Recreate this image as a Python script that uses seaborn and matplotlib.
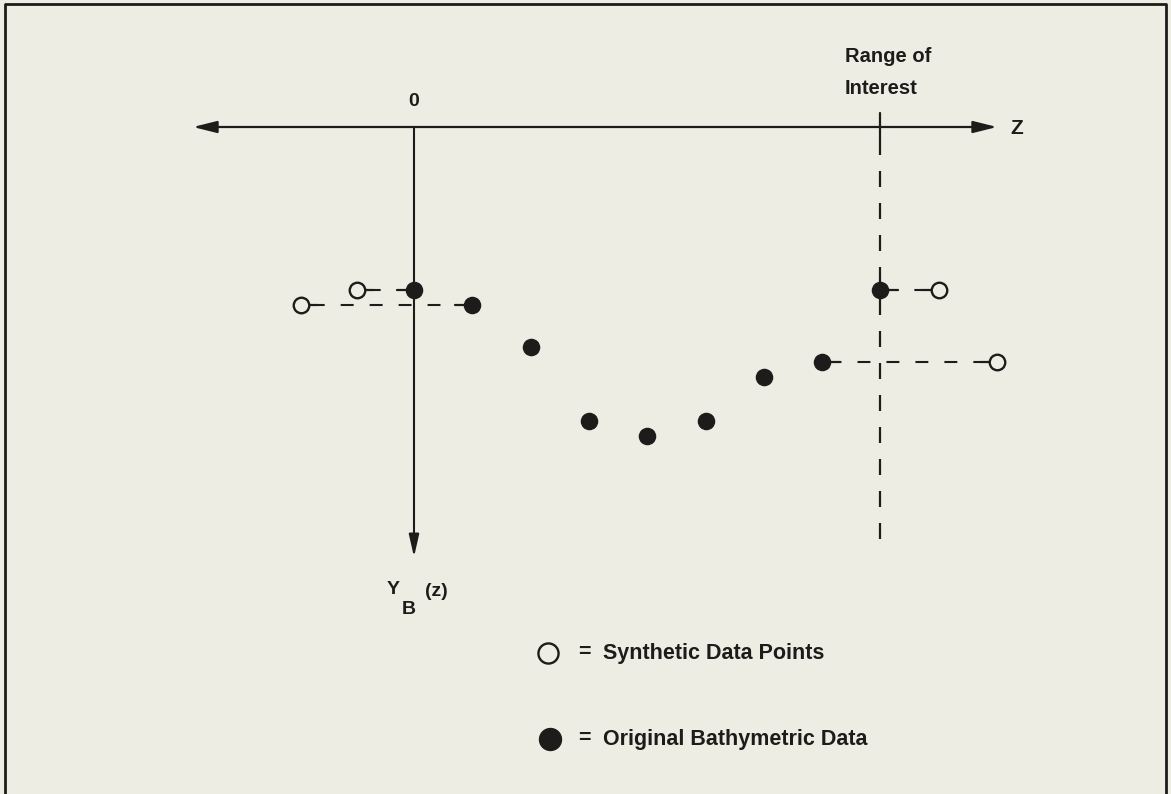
import numpy as np
import pandas as pd
import seaborn as sns
import matplotlib.pyplot as plt

# Original bathymetric data (z index, depth below the z axis)
orig_z = [0, 1, 2, 3, 4, 5, 6, 7, 8]
orig_y = [163, 178, 220, 294, 309, 294, 250, 235, 163]

# Synthetic data points and the original point each one copies
synth_z = [-1.94, -0.98, 9.0, 10.0]
synth_y = [178, 163, 163, 235]
synth_src = [1, 0, 8, 7]

range_z = 8  # range of interest

sns.set_theme(style="white")
plt.rcParams['font.family'] = ['Liberation Sans', 'DejaVu Sans']

bg = '#eeede3'
ink = '#1e1c1a'
step = 58.3  # pixels per z unit
x0, y0 = 414, 127  # origin in pixels


def zpx(px):
    return (px - x0) / step


fig = plt.figure(figsize=(11.71, 7.94), dpi=100, facecolor=bg)
ax = fig.add_axes([0, 0, 1, 1])
ax.set_facecolor(bg)
ax.set_xlim(zpx(0), zpx(1171))
ax.set_ylim(794 - y0, -y0)
ax.axis('off')

# frame of the figure
ax.plot([0.004, 0.004, 0.996, 0.996], [0, 0.995, 0.995, 0], transform=ax.transAxes,
        color=ink, lw=2, clip_on=False)

# z axis (double arrow) and Y axis
ax.annotate('', xy=(zpx(997), 0), xytext=(zpx(193), 0),
            arrowprops=dict(arrowstyle='<|-|>,head_length=0.8,head_width=0.2', color=ink,
                            lw=1.6, mutation_scale=18, shrinkA=0, shrinkB=0))
ax.annotate('', xy=(0, 430), xytext=(0, 0),
            arrowprops=dict(arrowstyle='-|>,head_length=0.75,head_width=0.17', color=ink,
                            lw=1.5, mutation_scale=18, shrinkA=0, shrinkB=0))
ax.text(zpx(1017), 1, 'Z', fontsize=15, fontweight='bold', color=ink, va='center', ha='center')
ax.text(0, -25, '0', fontsize=14, fontweight='bold', color=ink, ha='center', va='center')
ax.text(zpx(393), 463, 'Y', fontsize=14, fontweight='bold', color=ink, ha='center', va='center')
ax.text(zpx(409), 482, 'B', fontsize=14, fontweight='bold', color=ink, ha='center', va='center')
ax.text(zpx(436), 465, '(z)', fontsize=14, fontweight='bold', color=ink, ha='center', va='center')

# range of interest
ax.plot([range_z, range_z], [-14, 12], color=ink, lw=1.6)
ax.plot([range_z, range_z], [12, 416], color=ink, lw=1.6, ls=(0, (7.2, 7.2)))
ax.text(zpx(845), -71, 'Range of', fontsize=14.5, fontweight='bold', color=ink,
        ha='left', va='center')
ax.text(zpx(845), -39, 'Interest', fontsize=14.5, fontweight='bold', color=ink,
        ha='left', va='center')

# dashed links synthetic -> source, with a short solid stub at each end
stub = 0.3
for z, y, s in zip(synth_z, synth_y, synth_src):
    zs = orig_z[s]
    d = np.sign(zs - z)
    ax.plot([z + d * stub, zs - d * stub], [y, y], color=ink, lw=1.5,
            ls=(3, (6.2, 7.7)), zorder=2)
    ax.plot([z, z + d * stub], [y, y], color=ink, lw=1.6, zorder=2)
    ax.plot([zs, zs - d * stub], [y, y], color=ink, lw=1.6, zorder=2)

df_o = pd.DataFrame({'z': orig_z, 'y': orig_y})
df_s = pd.DataFrame({'z': synth_z, 'y': synth_y})
sns.scatterplot(data=df_o, x='z', y='y', ax=ax, s=135, color=ink, edgecolor=ink,
                linewidth=1, zorder=4, legend=False)
sns.scatterplot(data=df_s, x='z', y='y', ax=ax, s=125, facecolor=bg, edgecolor=ink,
                linewidth=1.7, zorder=4, legend=False)

# legend drawn into the diagram
ax.scatter([zpx(548)], [526], s=210, facecolor=bg, edgecolor=ink, linewidth=1.7, zorder=4)
ax.scatter([zpx(550)], [612], s=250, color=ink, zorder=4)
for yy, label in [(526, 'Synthetic Data Points'), (612, 'Original Bathymetric Data')]:
    ax.text(zpx(584), yy, '=', fontsize=15.5, fontweight='bold', color=ink,
            va='center', ha='center')
    ax.text(zpx(603), yy, label, fontsize=15.5, fontweight='bold', color=ink,
            va='center', ha='left')

fig.savefig('out.png', dpi=100, facecolor=bg)
